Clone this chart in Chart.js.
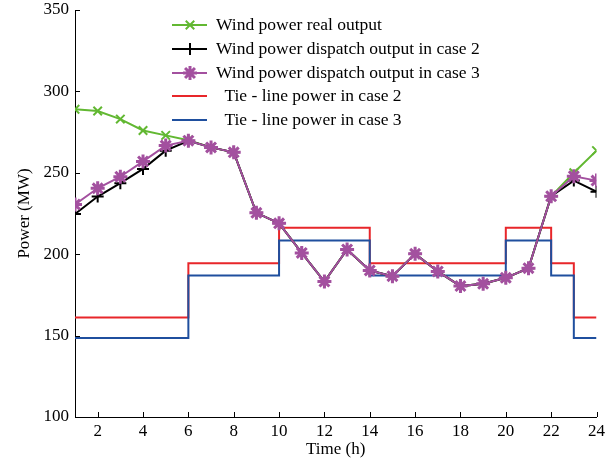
<!DOCTYPE html>
<html>
<head>
<meta charset="utf-8">
<script src="https://cdn.jsdelivr.net/npm/chart.js@4.4.0/dist/chart.umd.min.js"></script>
<style>
  body { margin: 0; background: #fff; }
  #powerChart { display: block; }
</style>
</head>
<body>
<canvas id="powerChart" width="609" height="460"></canvas>
<script>
// Wind power / tie-line chart

const hours = [1, 2, 3, 4, 5, 6, 7, 8, 9, 10, 11, 12, 13, 14, 15, 16, 17, 18, 19, 20, 21, 22, 23, 24];
const xTickValues = [2, 4, 6, 8, 10, 12, 14, 16, 18, 20, 22, 24];
const yTickValues = [100, 150, 200, 250, 300, 350];

const windReal = [289, 288, 283, 276, 273, 270, 265.6, 262.6, 225.4, 219, 200.8, 183.2, 202.9, 190, 186.5, 200.2, 189.4, 180.4, 181.8, 185.5, 191.4, 235.6, 250, 263.6];
const dispatchCase2 = [224.7, 235.4, 243.6, 252.4, 263.6, 269.7, 265.6, 262.6, 225.4, 219, 200.8, 183.2, 202.9, 190, 186.5, 200.2, 189.4, 180.4, 181.8, 185.5, 191.4, 235.6, 245.2, 238.4];
const dispatchCase3 = [230.5, 240.5, 247.6, 257, 266.7, 269.7, 265.6, 262.6, 225.4, 219, 200.8, 183.2, 202.9, 190, 186.5, 200.2, 189.4, 180.4, 181.8, 185.5, 191.4, 235.6, 247.9, 245.2];
const tieCase2 = [161.1, 161.1, 161.1, 161.1, 161.1, 194.5, 194.5, 194.5, 194.5, 216.2, 216.2, 216.2, 216.2, 194.5, 194.5, 194.5, 194.5, 194.5, 194.5, 216.2, 216.2, 194.5, 161.1, 161.1];
const tieCase3 = [148.5, 148.5, 148.5, 148.5, 148.5, 186.9, 186.9, 186.9, 186.9, 208.4, 208.4, 208.4, 208.4, 186.9, 186.9, 186.9, 186.9, 186.9, 186.9, 208.4, 208.4, 186.9, 148.5, 148.5];

const FONT = 'Liberation Serif, Times New Roman, serif';

function toPoints(values) {
  return hours.map((h, i) => ({ x: h, y: values[i] }));
}

// legend drawn inside the plot, like the original figure
const insideLegend = {
  id: 'insideLegend',
  afterDraw(chart) {
    const ctx = chart.ctx;
    const rows = [25, 49, 73, 96, 120];
    const textX = [216, 216, 216, 220, 220];
    ctx.save();
    chart.data.datasets.forEach((ds, i) => {
      const y = rows[i];
      ctx.strokeStyle = ds.borderColor;
      ctx.lineWidth = 2;
      ctx.beginPath();
      ctx.moveTo(172, y);
      ctx.lineTo(207, y);
      ctx.stroke();
      if (ds.pointStyle && ds.pointRadius > 0) {
        ctx.fillStyle = ds.borderColor;
        ctx.lineWidth = ds.pointBorderWidth;
        Chart.helpers.drawPoint(ctx, {
          pointStyle: ds.pointStyle,
          radius: ds.pointRadius,
          borderWidth: ds.pointBorderWidth,
          rotation: 0
        }, 190, y);
      }
      ctx.fillStyle = '#000';
      ctx.font = '17.5px ' + FONT;
      ctx.textBaseline = 'middle';
      ctx.textAlign = 'left';
      ctx.fillText(ds.label, textX[i], y);
    });
    ctx.restore();
  }
};

// short tick marks pointing into the plot
const inwardTicks = {
  id: 'inwardTicks',
  afterDraw(chart) {
    const ctx = chart.ctx;
    const x = chart.scales.x;
    const y = chart.scales.y;
    ctx.save();
    ctx.strokeStyle = '#000';
    ctx.lineWidth = 1;
    ctx.beginPath();
    xTickValues.forEach(v => {
      const px = Math.round(x.getPixelForValue(v)) + 0.5;
      ctx.moveTo(px, y.bottom);
      ctx.lineTo(px, y.bottom - 5);
    });
    yTickValues.forEach(v => {
      const py = Math.round(y.getPixelForValue(v)) + 0.5;
      ctx.moveTo(x.left, py);
      ctx.lineTo(x.left + 5, py);
    });
    ctx.stroke();
    ctx.restore();
  }
};

const ctxPower = document.getElementById('powerChart');

new Chart(ctxPower, {
  type: 'line',
  data: {
    datasets: [
      {
        label: 'Wind power real output',
        data: toPoints(windReal),
        borderColor: '#62b832',
        backgroundColor: '#62b832',
        borderWidth: 2,
        pointStyle: 'crossRot',
        pointRadius: 6,
        pointBorderWidth: 2,
        order: 2
      },
      {
        label: 'Wind power dispatch output in case 2',
        data: toPoints(dispatchCase2),
        borderColor: '#000000',
        backgroundColor: '#000000',
        borderWidth: 2,
        pointStyle: 'cross',
        pointRadius: 6,
        pointBorderWidth: 2,
        order: 1
      },
      {
        label: 'Wind power dispatch output in case 3',
        data: toPoints(dispatchCase3),
        borderColor: '#a3509f',
        backgroundColor: '#a3509f',
        borderWidth: 2,
        pointStyle: 'star',
        pointRadius: 7,
        pointBorderWidth: 3,
        order: 0
      },
      {
        label: ' Tie - line power in case 2',
        data: toPoints(tieCase2),
        borderColor: '#e8262a',
        backgroundColor: '#e8262a',
        borderWidth: 2,
        stepped: 'before',
        pointRadius: 0,
        pointStyle: false,
        order: 4
      },
      {
        label: ' Tie - line power in case 3',
        data: toPoints(tieCase3),
        borderColor: '#1f4f9e',
        backgroundColor: '#1f4f9e',
        borderWidth: 2,
        stepped: 'before',
        pointRadius: 0,
        pointStyle: false,
        order: 3
      }
    ]
  },
  options: {
    responsive: false,
    animation: false,
    layout: { padding: { top: 9, right: 12, left: 0, bottom: 0 } },
    plugins: {
      legend: { display: false },
      tooltip: { enabled: false }
    },
    scales: {
      x: {
        type: 'linear',
        min: 1,
        max: 24,
        afterBuildTicks: (scale) => { scale.ticks = xTickValues.map(v => ({ value: v })); },
        afterFit: (scale) => { scale.height = 43; },
        grid: { drawOnChartArea: false, drawTicks: false },
        border: { display: true, color: '#000', width: 1 },
        ticks: {
          color: '#000',
          padding: 4,
          maxRotation: 0,
          autoSkip: false,
          font: { family: FONT, size: 17 }
        },
        title: {
          display: true,
          text: 'Time (h)',
          color: '#000',
          padding: { top: 3, bottom: 0 },
          font: { family: FONT, size: 17 }
        }
      },
      y: {
        min: 100,
        max: 350,
        afterBuildTicks: (scale) => { scale.ticks = yTickValues.map(v => ({ value: v })); },
        afterFit: (scale) => { scale.width = 75; scale.paddingTop = 0; },
        grid: { drawOnChartArea: false, drawTicks: false },
        border: { display: true, color: '#000', width: 1 },
        ticks: {
          color: '#000',
          padding: 6,
          font: { family: FONT, size: 17 }
        },
        title: {
          display: true,
          text: 'Power (MW)',
          color: '#000',
          padding: { top: 14, bottom: 0 },
          font: { family: FONT, size: 17 }
        }
      }
    }
  },
  plugins: [inwardTicks, insideLegend]
});
</script>
</body>
</html>
